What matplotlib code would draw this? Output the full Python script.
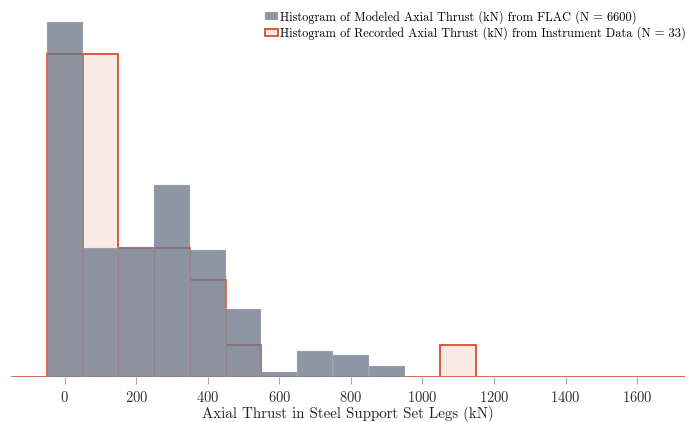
import numpy as np
import matplotlib
matplotlib.use("Agg")
import matplotlib.pyplot as plt

plt.rcParams['font.family'] = ['cmr10', 'DejaVu Serif']
plt.rcParams['axes.formatter.use_mathtext'] = True
plt.rcParams['mathtext.fontset'] = 'cm'

# bin centres (kN), bins are 100 kN wide
centres = [-100, 0, 100, 200, 300, 400, 500, 600, 700, 800, 900,
           1000, 1100, 1200, 1300, 1400, 1500, 1600, 1700]
# modeled (FLAC) counts, N = 6600
modeled = [0, 2200, 800, 805, 1190, 790, 420, 30, 160, 135, 70,
           0, 0, 0, 0, 0, 0, 0, 0]
# recorded (instrument) counts, N = 33
recorded = [0, 10, 10, 4, 4, 3, 1, 0, 0, 0, 0,
            0, 1, 0, 0, 0, 0, 0, 0]

edges = np.arange(-150, 1751, 100)
ticks = [0, 200, 400, 600, 800, 1000, 1200, 1400, 1600]
grid_at = [0, 400, 600, 1000, 1400, 1600]  # gridlines that show in the original

fig = plt.figure(figsize=(6.85, 4.22), dpi=100)
ax = fig.add_axes([11/685, 45/422, 674/685, 372/422])

# recorded data first, modeled bars on top, a bit see-through
ax.hist(centres, bins=edges, weights=recorded, density=True,
        histtype='bar', color='#f8ebe6', edgecolor='#d95a3c', linewidth=1.4,
        label='Histogram of Recorded Axial Thrust (kN) from Instrument Data (N = 33)')
n_mod, _, _ = ax.hist(centres, bins=edges, weights=modeled, density=True,
                      histtype='bar', color='#6f798a', alpha=0.78,
                      edgecolor='#c8ccd4', linewidth=0.3,
                      label='Histogram of Modeled Axial Thrust (kN) from FLAC (N = 6600)')

ax.set_xlim(-150, 1734)
ax.set_ylim(0, n_mod.max() * 1.048)
ax.set_xticks(ticks)
ax.set_xticks(grid_at, minor=True)
ax.set_yticks([])
for s in ax.spines.values():
    s.set_visible(False)
ax.grid(axis='x', which='minor', color='#d5d5d5', linewidth=1)
ax.set_axisbelow(True)
ax.tick_params(axis='x', which='minor', length=0)
ax.tick_params(axis='x', which='major', length=5, color='#aaaaaa',
               labelsize=10.5, labelcolor='#333333', pad=4)
ax.set_xlabel('Axial Thrust in Steel Support Set Legs (kN)', fontsize=10.8,
              color='#222222', labelpad=1)

h, l = ax.get_legend_handles_labels()
ax.legend(h[::-1], l[::-1], loc='upper right', frameon=False, fontsize=8.9,
          handlelength=1.0, handleheight=0.6, handletextpad=0.15,
          labelspacing=0.22, borderaxespad=0.0, bbox_to_anchor=(1.008, 1.0))

fig.savefig('out.png', dpi=100)
